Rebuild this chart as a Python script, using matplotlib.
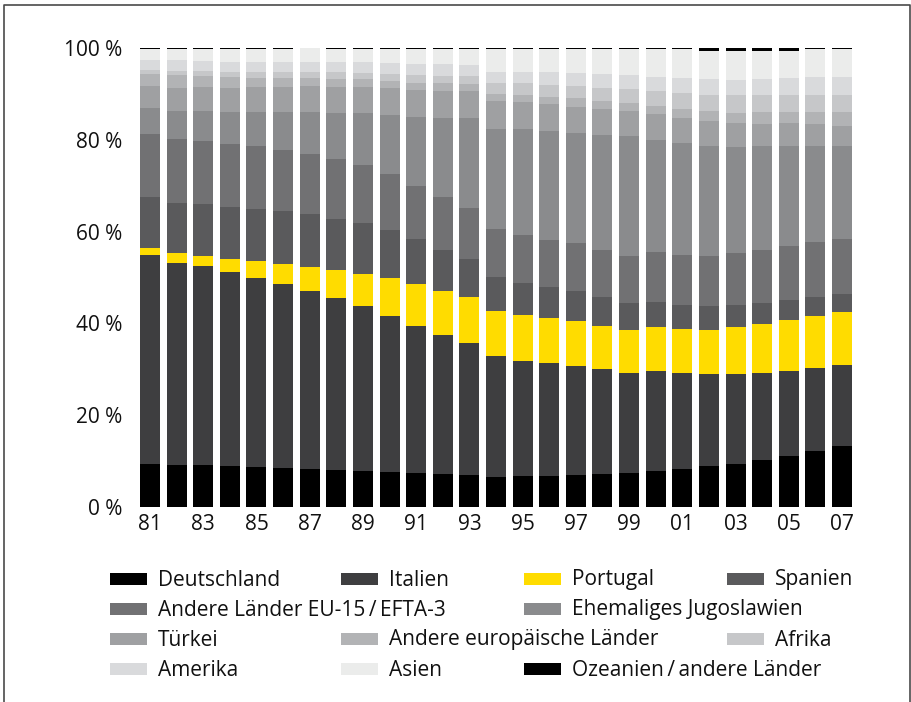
import matplotlib.pyplot as plt
from matplotlib.patches import Rectangle
from matplotlib.lines import Line2D

years = ["81", "82", "83", "84", "85", "86", "87", "88", "89", "90", "91", "92", "93", "94",
         "95", "96", "97", "98", "99", "00", "01", "02", "03", "04", "05", "06", "07"]

# Anteile in % je Jahr (von unten nach oben gestapelt)
deutschland = [9.4, 9.2, 9.2, 8.9, 8.7, 8.5, 8.3, 8.1, 7.8, 7.6, 7.4, 7.2, 7.0, 6.5,
               6.8, 6.8, 7.0, 7.2, 7.4, 7.8, 8.3, 8.9, 9.4, 10.2, 11.1, 12.2, 13.3]
italien = [45.5, 44.0, 43.3, 42.3, 41.2, 40.1, 38.8, 37.4, 36.0, 34.0, 32.0, 30.3, 28.7, 26.4,
           25.0, 24.6, 23.7, 22.9, 21.8, 21.8, 20.9, 20.1, 19.6, 19.0, 18.5, 18.1, 17.6]
portugal = [1.5, 2.1, 2.2, 2.8, 3.7, 4.3, 5.2, 6.1, 7.0, 8.3, 9.2, 9.6, 10.1, 9.8,
            10.0, 9.8, 9.8, 9.3, 9.4, 9.6, 9.6, 9.6, 10.2, 10.7, 11.1, 11.3, 11.6]
spanien = [11.1, 10.9, 11.3, 11.4, 11.3, 11.6, 11.5, 11.1, 11.1, 10.4, 9.8, 8.9, 8.2, 7.4,
           7.0, 6.7, 6.6, 6.4, 5.8, 5.5, 5.2, 5.2, 4.8, 4.5, 4.4, 4.2, 3.9]
andere_eu = [13.8, 14.0, 13.7, 13.7, 13.7, 13.3, 13.1, 13.1, 12.6, 12.2, 11.5, 11.5, 11.1, 10.5,
             10.5, 10.3, 10.4, 10.2, 10.3, 10.9, 10.9, 10.9, 11.3, 11.6, 11.8, 11.9, 12.0]
jugoslawien = [5.6, 6.1, 6.6, 7.0, 7.5, 8.3, 9.2, 10.0, 11.3, 12.9, 15.1, 17.2, 19.6, 21.8,
               23.1, 23.7, 24.0, 25.0, 26.1, 24.4, 24.4, 23.9, 23.1, 22.6, 21.7, 20.9, 20.2]
tuerkei = [4.8, 5.0, 5.2, 5.2, 5.4, 5.4, 5.6, 5.7, 5.7, 5.9, 5.8, 5.9, 5.9, 6.1,
           5.8, 5.9, 5.6, 5.7, 5.5, 5.6, 5.4, 5.5, 5.3, 4.8, 5.1, 4.8, 4.4]
andere_europa = [2.6, 2.8, 2.4, 2.4, 2.0, 2.0, 1.8, 1.7, 1.7, 1.5, 1.6, 1.8, 1.6, 1.5,
                 1.6, 1.5, 2.0, 1.8, 1.7, 1.8, 2.0, 2.2, 2.1, 2.7, 2.4, 2.7, 3.1]
afrika = [0.9, 0.9, 1.1, 1.1, 1.3, 1.3, 1.3, 1.6, 1.4, 1.5, 1.7, 1.5, 1.7, 2.4,
          2.6, 2.6, 2.6, 2.8, 3.1, 3.2, 3.5, 3.5, 4.0, 3.7, 3.7, 3.7, 3.7]
amerika = [2.2, 2.4, 2.2, 2.2, 2.2, 2.2, 2.2, 2.2, 2.4, 2.4, 2.4, 2.6, 2.4, 2.4,
           2.4, 2.9, 2.9, 3.0, 3.0, 3.1, 3.3, 3.4, 3.2, 3.4, 3.7, 3.9, 3.9]
asien = [2.3, 2.3, 2.5, 2.7, 2.7, 2.7, 3.0, 2.7, 2.7, 3.0, 3.2, 3.2, 3.4, 4.9,
         4.9, 4.9, 5.1, 5.4, 5.6, 6.0, 6.2, 6.2, 6.4, 6.2, 5.9, 6.0, 6.0]
ozeanien = [0.3, 0.3, 0.3, 0.3, 0.3, 0.3, 0.0, 0.3, 0.3, 0.3, 0.3, 0.3, 0.3, 0.3,
            0.3, 0.3, 0.3, 0.3, 0.3, 0.3, 0.3, 0.6, 0.6, 0.6, 0.6, 0.3, 0.3]

series = [
    ("Deutschland", deutschland, "#000000"),
    ("Italien", italien, "#3e3e40"),
    ("Portugal", portugal, "#ffdc00"),
    ("Spanien", spanien, "#5a5a5c"),
    ("Andere Länder EU-15\u2009/\u2009EFTA-3", andere_eu, "#717173"),
    ("Ehemaliges Jugoslawien", jugoslawien, "#8a8b8d"),
    ("Türkei", tuerkei, "#9fa0a2"),
    ("Andere europäische Länder", andere_europa, "#b2b3b5"),
    ("Afrika", afrika, "#c6c7c9"),
    ("Amerika", amerika, "#d9dadc"),
    ("Asien", asien, "#ebeceb"),
    ("Ozeanien\u2009/\u2009andere Länder", ozeanien, "#000000"),
]

plt.rcParams["font.family"] = ["Open Sans", "DejaVu Sans"]

W, H = 911, 702
fig = plt.figure(figsize=(W / 100, H / 100), dpi=100)
ax = fig.add_axes([136.7 / W, 1 - 507 / H, (855.3 - 136.7) / W, (507 - 48) / H])

x = list(range(len(years)))
bottom = [0.0] * len(years)
for name, vals, color in series:
    ax.bar(x, vals, bottom=bottom, width=0.75, color=color, linewidth=0)
    bottom = [b + v for b, v in zip(bottom, vals)]

ax.set_xlim(-0.5, len(years) - 0.5)
ax.set_ylim(0, 100)
ax.set_yticks([0, 20, 40, 60, 80, 100])
ax.set_yticklabels(["0 %", "20 %", "40 %", "60 %", "80 %", "100 %"])
ax.set_xticks(x[::2])
ax.set_xticklabels(years[::2])
ax.tick_params(axis="both", length=0, labelsize=15, colors="#111111")
ax.tick_params(axis="y", pad=10.5)
ax.tick_params(axis="x", pad=5)
for s in ax.spines.values():
    s.set_visible(False)

# Legende von Hand, 4 Spalten, unregelmäßig belegt
col_x = [110, 341, 524, 727]
row_y = [579, 609, 639, 669]
slots = [(0, 0), (0, 1), (0, 2), (0, 3),
         (1, 0), (1, 2),
         (2, 0), (2, 1), (2, 3),
         (3, 0), (3, 1), (3, 2)]
for (name, vals, color), (r, c) in zip(series, slots):
    sx, sy = col_x[c], row_y[r]
    fig.add_artist(Rectangle((sx / W, 1 - (sy + 6) / H), 37 / W, 12 / H,
                             transform=fig.transFigure, facecolor=color, edgecolor="none"))
    fig.text((sx + 48) / W, 1 - (sy + 1) / H, name, fontsize=15, va="center",
             ha="left", color="#111111")

# Rahmen (links, oben, rechts)
frame_x = [3.5 / W, 3.5 / W, 909.5 / W, 909.5 / W]
frame_y = [0, 1 - 4.5 / H, 1 - 4.5 / H, 0]
fig.add_artist(Line2D(frame_x, frame_y, transform=fig.transFigure, color="#4a4a4a", linewidth=1.2))

fig.savefig("out.png", dpi=100)
